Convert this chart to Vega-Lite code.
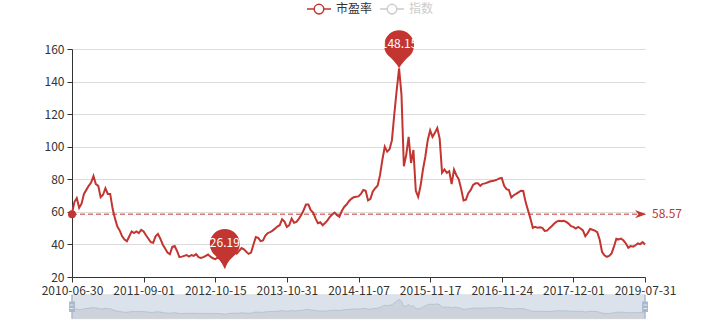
{
"$schema": "https://vega.github.io/schema/vega-lite/v6.json",
"width": 573,
"height": 228,
"autosize": {"type": "none"},
"padding": {"left": 72, "top": 49, "right": 75, "bottom": 48},
"background": "white",
"config": {"view": {"stroke": null}, "font": "Noto Sans CJK SC", "axis": {"labelFont": "Noto Sans CJK SC", "labelFontSize": 12, "labelColor": "#333"}},
"data": {"values": [
{"d":"2010-06-30","v":59},{"d":"2010-07-14","v":66},{"d":"2010-07-28","v":68.5},{"d":"2010-08-11","v":62.5},{"d":"2010-08-25","v":65},{"d":"2010-09-08","v":71},{"d":"2010-09-22","v":73.5},{"d":"2010-10-06","v":76},{"d":"2010-10-20","v":78},{"d":"2010-11-03","v":82},{"d":"2010-11-17","v":77},{"d":"2010-12-01","v":76},{"d":"2010-12-15","v":69},{"d":"2010-12-29","v":70.5},{"d":"2011-01-12","v":74.5},{"d":"2011-01-26","v":71},{"d":"2011-02-09","v":71},{"d":"2011-02-23","v":62},{"d":"2011-03-09","v":56},{"d":"2011-03-23","v":51},{"d":"2011-04-06","v":48.5},{"d":"2011-04-20","v":45},{"d":"2011-05-04","v":43},{"d":"2011-05-18","v":42},{"d":"2011-06-01","v":45},{"d":"2011-06-15","v":48},{"d":"2011-06-29","v":47},{"d":"2011-07-13","v":48},{"d":"2011-07-27","v":47},{"d":"2011-08-10","v":49},
{"d":"2011-09-01","v":48},{"d":"2011-09-15","v":45.6},{"d":"2011-09-29","v":43.5},{"d":"2011-10-13","v":41.4},{"d":"2011-10-27","v":41},{"d":"2011-11-10","v":45},{"d":"2011-11-24","v":46.5},{"d":"2011-12-08","v":43.5},{"d":"2011-12-22","v":40},{"d":"2012-01-05","v":37.5},{"d":"2012-01-19","v":35},{"d":"2012-02-02","v":34},{"d":"2012-02-16","v":38.5},{"d":"2012-03-01","v":39},{"d":"2012-03-15","v":36},{"d":"2012-03-29","v":32.2},{"d":"2012-04-12","v":32.5},{"d":"2012-04-26","v":33},{"d":"2012-05-10","v":33.5},{"d":"2012-05-24","v":32.6},{"d":"2012-06-07","v":33.5},{"d":"2012-06-21","v":33},{"d":"2012-07-05","v":34},{"d":"2012-07-19","v":32.2},{"d":"2012-08-02","v":31.7},{"d":"2012-08-16","v":32.2},{"d":"2012-08-30","v":33},{"d":"2012-09-13","v":33.8},{"d":"2012-09-27","v":32.5},{"d":"2012-10-09","v":31.5},
{"d":"2012-10-15","v":31},{"d":"2012-10-28","v":32},{"d":"2012-11-10","v":31},{"d":"2012-11-23","v":29},{"d":"2012-12-06","v":26.19},{"d":"2012-12-19","v":30},{"d":"2013-01-01","v":33},{"d":"2013-01-14","v":34.5},{"d":"2013-01-27","v":35.5},{"d":"2013-02-09","v":34.3},{"d":"2013-02-22","v":36},{"d":"2013-03-07","v":37.8},{"d":"2013-03-20","v":37},{"d":"2013-04-02","v":35.5},{"d":"2013-04-15","v":34.2},{"d":"2013-04-28","v":35},{"d":"2013-05-11","v":40},{"d":"2013-05-24","v":44.5},{"d":"2013-06-06","v":44},{"d":"2013-06-19","v":42},{"d":"2013-07-02","v":42.5},{"d":"2013-07-15","v":45.5},{"d":"2013-07-28","v":47},{"d":"2013-08-10","v":47.5},{"d":"2013-08-23","v":48.5},{"d":"2013-09-05","v":49.7},{"d":"2013-09-18","v":51},{"d":"2013-10-01","v":51.8},{"d":"2013-10-14","v":55.5},{"d":"2013-10-24","v":54},
{"d":"2013-10-31","v":50.7},{"d":"2013-11-12","v":51.8},{"d":"2013-11-24","v":55.9},{"d":"2013-12-06","v":53.3},{"d":"2013-12-18","v":53.8},{"d":"2013-12-30","v":55.7},{"d":"2014-01-11","v":58},{"d":"2014-01-23","v":61},{"d":"2014-02-04","v":64.5},{"d":"2014-02-16","v":64.5},{"d":"2014-02-28","v":61},{"d":"2014-03-12","v":59.5},{"d":"2014-03-24","v":56},{"d":"2014-04-05","v":53},{"d":"2014-04-17","v":53.6},{"d":"2014-04-29","v":51.8},{"d":"2014-05-11","v":53.2},{"d":"2014-05-23","v":54.8},{"d":"2014-06-04","v":56.9},{"d":"2014-06-16","v":58.4},{"d":"2014-06-28","v":59.5},{"d":"2014-07-10","v":58},{"d":"2014-07-22","v":57},{"d":"2014-08-03","v":60.5},{"d":"2014-08-15","v":63},{"d":"2014-08-27","v":64.5},{"d":"2014-09-08","v":66.5},{"d":"2014-09-20","v":68},{"d":"2014-10-02","v":69},{"d":"2014-10-14","v":69.3},
{"d":"2014-11-07","v":69.5},{"d":"2014-11-19","v":71},{"d":"2014-12-01","v":73.5},{"d":"2014-12-13","v":73},{"d":"2014-12-25","v":67},{"d":"2015-01-06","v":68},{"d":"2015-01-18","v":72.5},{"d":"2015-01-30","v":74.5},{"d":"2015-02-11","v":76},{"d":"2015-02-23","v":82.5},{"d":"2015-03-07","v":92},{"d":"2015-03-19","v":100},{"d":"2015-03-31","v":97},{"d":"2015-04-12","v":98.5},{"d":"2015-04-24","v":104},{"d":"2015-05-06","v":120},{"d":"2015-05-18","v":134.8},{"d":"2015-05-30","v":148.15},{"d":"2015-06-11","v":132},{"d":"2015-06-23","v":88},{"d":"2015-07-05","v":95},{"d":"2015-07-17","v":106},{"d":"2015-07-29","v":90},{"d":"2015-08-10","v":98},{"d":"2015-08-22","v":73},{"d":"2015-09-03","v":69.2},{"d":"2015-09-15","v":76},{"d":"2015-09-27","v":86},{"d":"2015-10-09","v":94},{"d":"2015-10-21","v":104},
{"d":"2015-11-17","v":110},{"d":"2015-11-29","v":106},{"d":"2015-12-11","v":108.5},{"d":"2015-12-23","v":111.5},{"d":"2016-01-04","v":105},{"d":"2016-01-16","v":84},{"d":"2016-01-28","v":86},{"d":"2016-02-09","v":84},{"d":"2016-02-21","v":85},{"d":"2016-03-04","v":77},{"d":"2016-03-16","v":86},{"d":"2016-03-28","v":82.5},{"d":"2016-04-09","v":80},{"d":"2016-04-21","v":74},{"d":"2016-05-03","v":67},{"d":"2016-05-15","v":67.5},{"d":"2016-05-27","v":71.5},{"d":"2016-06-08","v":73.5},{"d":"2016-06-20","v":76.5},{"d":"2016-07-02","v":77.5},{"d":"2016-07-14","v":77.5},{"d":"2016-07-26","v":76},{"d":"2016-08-07","v":77.2},{"d":"2016-08-19","v":77.5},{"d":"2016-08-31","v":78},{"d":"2016-09-12","v":78.6},{"d":"2016-09-24","v":79},{"d":"2016-10-06","v":79.3},{"d":"2016-10-18","v":79.8},{"d":"2016-10-30","v":80.5},
{"d":"2016-11-24","v":80.8},{"d":"2016-12-06","v":76},{"d":"2016-12-18","v":74},{"d":"2016-12-30","v":73.4},{"d":"2017-01-11","v":68.8},{"d":"2017-01-23","v":70.2},{"d":"2017-02-04","v":71},{"d":"2017-02-16","v":72},{"d":"2017-02-28","v":73},{"d":"2017-03-12","v":72.8},{"d":"2017-03-24","v":66},{"d":"2017-04-05","v":61},{"d":"2017-04-17","v":56},{"d":"2017-04-29","v":50.2},{"d":"2017-05-11","v":50.8},{"d":"2017-05-23","v":50.2},{"d":"2017-06-04","v":50.6},{"d":"2017-06-16","v":50.2},{"d":"2017-06-28","v":48.3},{"d":"2017-07-10","v":48.5},{"d":"2017-07-22","v":50},{"d":"2017-08-03","v":51.3},{"d":"2017-08-15","v":52.8},{"d":"2017-08-27","v":54},{"d":"2017-09-08","v":54.5},{"d":"2017-09-20","v":54.2},{"d":"2017-10-02","v":54.5},{"d":"2017-10-14","v":53.8},{"d":"2017-10-26","v":52.8},{"d":"2017-11-07","v":51.2},
{"d":"2017-12-01","v":50.8},{"d":"2017-12-21","v":49.8},{"d":"2018-01-10","v":50.8},{"d":"2018-01-30","v":49.8},{"d":"2018-02-19","v":48.6},{"d":"2018-03-11","v":45},{"d":"2018-03-31","v":47},{"d":"2018-04-20","v":49.5},{"d":"2018-05-10","v":49},{"d":"2018-05-30","v":48.5},{"d":"2018-06-19","v":47.5},{"d":"2018-07-09","v":43},{"d":"2018-07-29","v":35.5},{"d":"2018-08-18","v":33.3},{"d":"2018-09-07","v":32.4},{"d":"2018-09-27","v":32.9},{"d":"2018-10-17","v":34.5},{"d":"2018-11-06","v":38.6},{"d":"2018-11-26","v":43.5},{"d":"2018-12-16","v":43},{"d":"2019-01-05","v":43.6},{"d":"2019-01-25","v":42.4},{"d":"2019-02-14","v":40.6},{"d":"2019-03-06","v":38},{"d":"2019-03-26","v":39},{"d":"2019-04-15","v":38.6},{"d":"2019-05-05","v":39.5},{"d":"2019-05-25","v":40.6},{"d":"2019-06-14","v":40.2},{"d":"2019-07-04","v":41.4},{"d":"2019-07-31","v":40}
]},
"layer": [
{"data": {"values": [{"slider": "dataZoom"}]},
 "mark": {"type": "rect", "fill": "#dce2eb", "stroke": "#dddddd", "strokeWidth": 1},
 "encoding": {
  "x": {"datum": "2010-06-30", "type": "ordinal"},
  "x2": {"datum": "2019-07-31"},
  "y": {"datum": 184.8, "type": "quantitative", "scale": {"domain": [330.9, 2198.8], "zero": false, "nice": false}, "axis": null},
  "y2": {"datum": -10.4}
 }},
{"mark": {"type": "area", "fill": "#2f4554", "fillOpacity": 0.09, "line": {"stroke": "#2f4554", "strokeOpacity": 0.3, "strokeWidth": 0.5}},
 "encoding": {
  "x": {"field": "d", "type": "ordinal"},
  "y": {"field": "v", "type": "quantitative", "scale": {"domain": [330.9, 2198.8], "zero": false, "nice": false}, "axis": null},
  "y2": {"datum": -10.4}
 }},
{"data": {"values": [{"h": "2010-06-30"}, {"h": "2019-07-31"}]},
 "mark": {"type": "point", "filled": true, "opacity": 1, "fill": "#a7b7cc", "size": 566,
  "shape": "M0.0554,-0.4344V-1H-0.0554V-0.4344H-0.242V0.4344H-0.0496V1H0.0554V0.4344H0.2478V-0.4344H0.0554Z M0.1429,0.1953H-0.1429V0.1137H0.1429V0.1953Z M0.1429,-0.1137H-0.1429V-0.1953H0.1429V-0.1137Z"},
 "encoding": {
  "x": {"field": "h", "type": "ordinal"},
  "y": {"datum": 87.2, "type": "quantitative", "scale": {"domain": [330.9, 2198.8], "zero": false, "nice": false}, "axis": null}
 }},
{"mark": {"type": "line", "strokeWidth": 2},
 "encoding": {
  "x": {"field": "d", "type": "ordinal", "sort": "ascending",
   "scale": {"type": "point", "padding": 0},
   "axis": {"values": ["2010-06-30","2011-09-01","2012-10-15","2013-10-31","2014-11-07","2015-11-17","2016-11-24","2017-12-01","2019-07-31"], "labelAngle": 0, "labelAlign": "center", "labelBaseline": "top", "tickSize": 5, "labelPadding": 3, "domainColor": "#333", "tickColor": "#333", "grid": false, "title": null, "labelOverlap": false, "labelFlush": false}},
  "y": {"field": "v", "type": "quantitative", "scale": {"domain": [20, 160], "zero": false, "nice": false},
   "axis": {"values": [20,40,60,80,100,120,140,160], "tickSize": 5, "labelPadding": 3, "domainColor": "#333", "tickColor": "#333", "grid": true, "gridColor": "#dcdcdc", "title": null}},
  "color": {"datum": "市盈率", "type": "nominal", "scale": {"domain": ["市盈率", "指数"], "range": ["#c23531", "#cccccc"]},
   "legend": {"orient": "none", "legendX": 234, "legendY": -53, "direction": "horizontal", "title": null,
    "symbolType": "M-1,0L-0.4,0M0.4,0A0.4,0.4,0,1,1,-0.4,0A0.4,0.4,0,1,1,0.4,0M0.4,0L1,0",
    "symbolSize": 576, "symbolStrokeWidth": 1.5, "symbolFillColor": "#ffffff", "labelFontSize": 12, "labelFont": "Noto Sans CJK SC", "labelOffset": 4, "columnPadding": 4, "padding": 0,
    "encode": {"labels": {"update": {"fill": {"signal": "datum.label === '指数' ? '#cccccc' : '#333333'"}}}}}}
 }},
{"data": {"values": [{"avg": 58.57}]},
 "mark": {"type": "rule", "color": "#c23531", "strokeWidth": 1, "strokeDash": [5, 3]},
 "encoding": {
  "y": {"field": "avg", "type": "quantitative", "scale": {"domain": [20, 160], "zero": false, "nice": false}, "axis": null}
 }},
{"data": {"values": [{"avg": 58.57}]},
 "mark": {"type": "point", "filled": true, "opacity": 1, "color": "#c23531", "size": 64},
 "encoding": {
  "x": {"datum": "2010-06-30", "type": "ordinal"},
  "y": {"field": "avg", "type": "quantitative", "scale": {"domain": [20, 160], "zero": false, "nice": false}, "axis": null}
 }},
{"data": {"values": [{"avg": 58.57}]},
 "mark": {"type": "point", "filled": true, "opacity": 1, "color": "#c23531", "size": 121, "shape": "M0.2,0L-1.8,-0.75L-1.2,0L-1.8,0.75Z"},
 "encoding": {
  "x": {"datum": "2019-07-31", "type": "ordinal"},
  "y": {"field": "avg", "type": "quantitative", "scale": {"domain": [20, 160], "zero": false, "nice": false}, "axis": null}
 }},
{"data": {"values": [{"avg": 58.57}]},
 "mark": {"type": "text", "color": "#c23531", "fontSize": 12, "align": "left", "baseline": "middle", "dx": 7, "font": "Noto Sans CJK SC"},
 "encoding": {
  "x": {"datum": "2019-07-31", "type": "ordinal"},
  "y": {"field": "avg", "type": "quantitative", "scale": {"domain": [20, 160], "zero": false, "nice": false}, "axis": null},
  "text": {"field": "avg", "type": "quantitative", "format": ".2f"}
 }},
{"transform": [{"joinaggregate": [{"op": "max", "field": "v", "as": "vmax"}, {"op": "min", "field": "v", "as": "vmin"}]}, {"filter": "datum.v === datum.vmax || datum.v === datum.vmin"}],
 "mark": {"type": "point", "filled": true, "opacity": 1, "color": "#c23531", "size": 1764,
  "shape": "M0,0Q-0.19,-0.333,-0.543,-0.629A0.714,0.714,0,1,1,0.543,-0.629Q0.19,-0.333,0,0Z"},
 "encoding": {
  "x": {"field": "d", "type": "ordinal"},
  "y": {"field": "v", "type": "quantitative", "scale": {"domain": [20, 160], "zero": false, "nice": false}, "axis": null}
 }},
{"transform": [{"joinaggregate": [{"op": "max", "field": "v", "as": "vmax"}, {"op": "min", "field": "v", "as": "vmin"}]}, {"filter": "datum.v === datum.vmax || datum.v === datum.vmin"}],
 "mark": {"type": "text", "color": "#ffffff", "fontSize": 12, "baseline": "middle", "align": "center", "dy": -24, "font": "Noto Sans CJK SC"},
 "encoding": {
  "x": {"field": "d", "type": "ordinal"},
  "y": {"field": "v", "type": "quantitative", "scale": {"domain": [20, 160], "zero": false, "nice": false}, "axis": null},
  "text": {"field": "v", "type": "quantitative", "format": ".2f"}
 }}
],
"resolve": {"scale": {"y": "independent"}}
}
